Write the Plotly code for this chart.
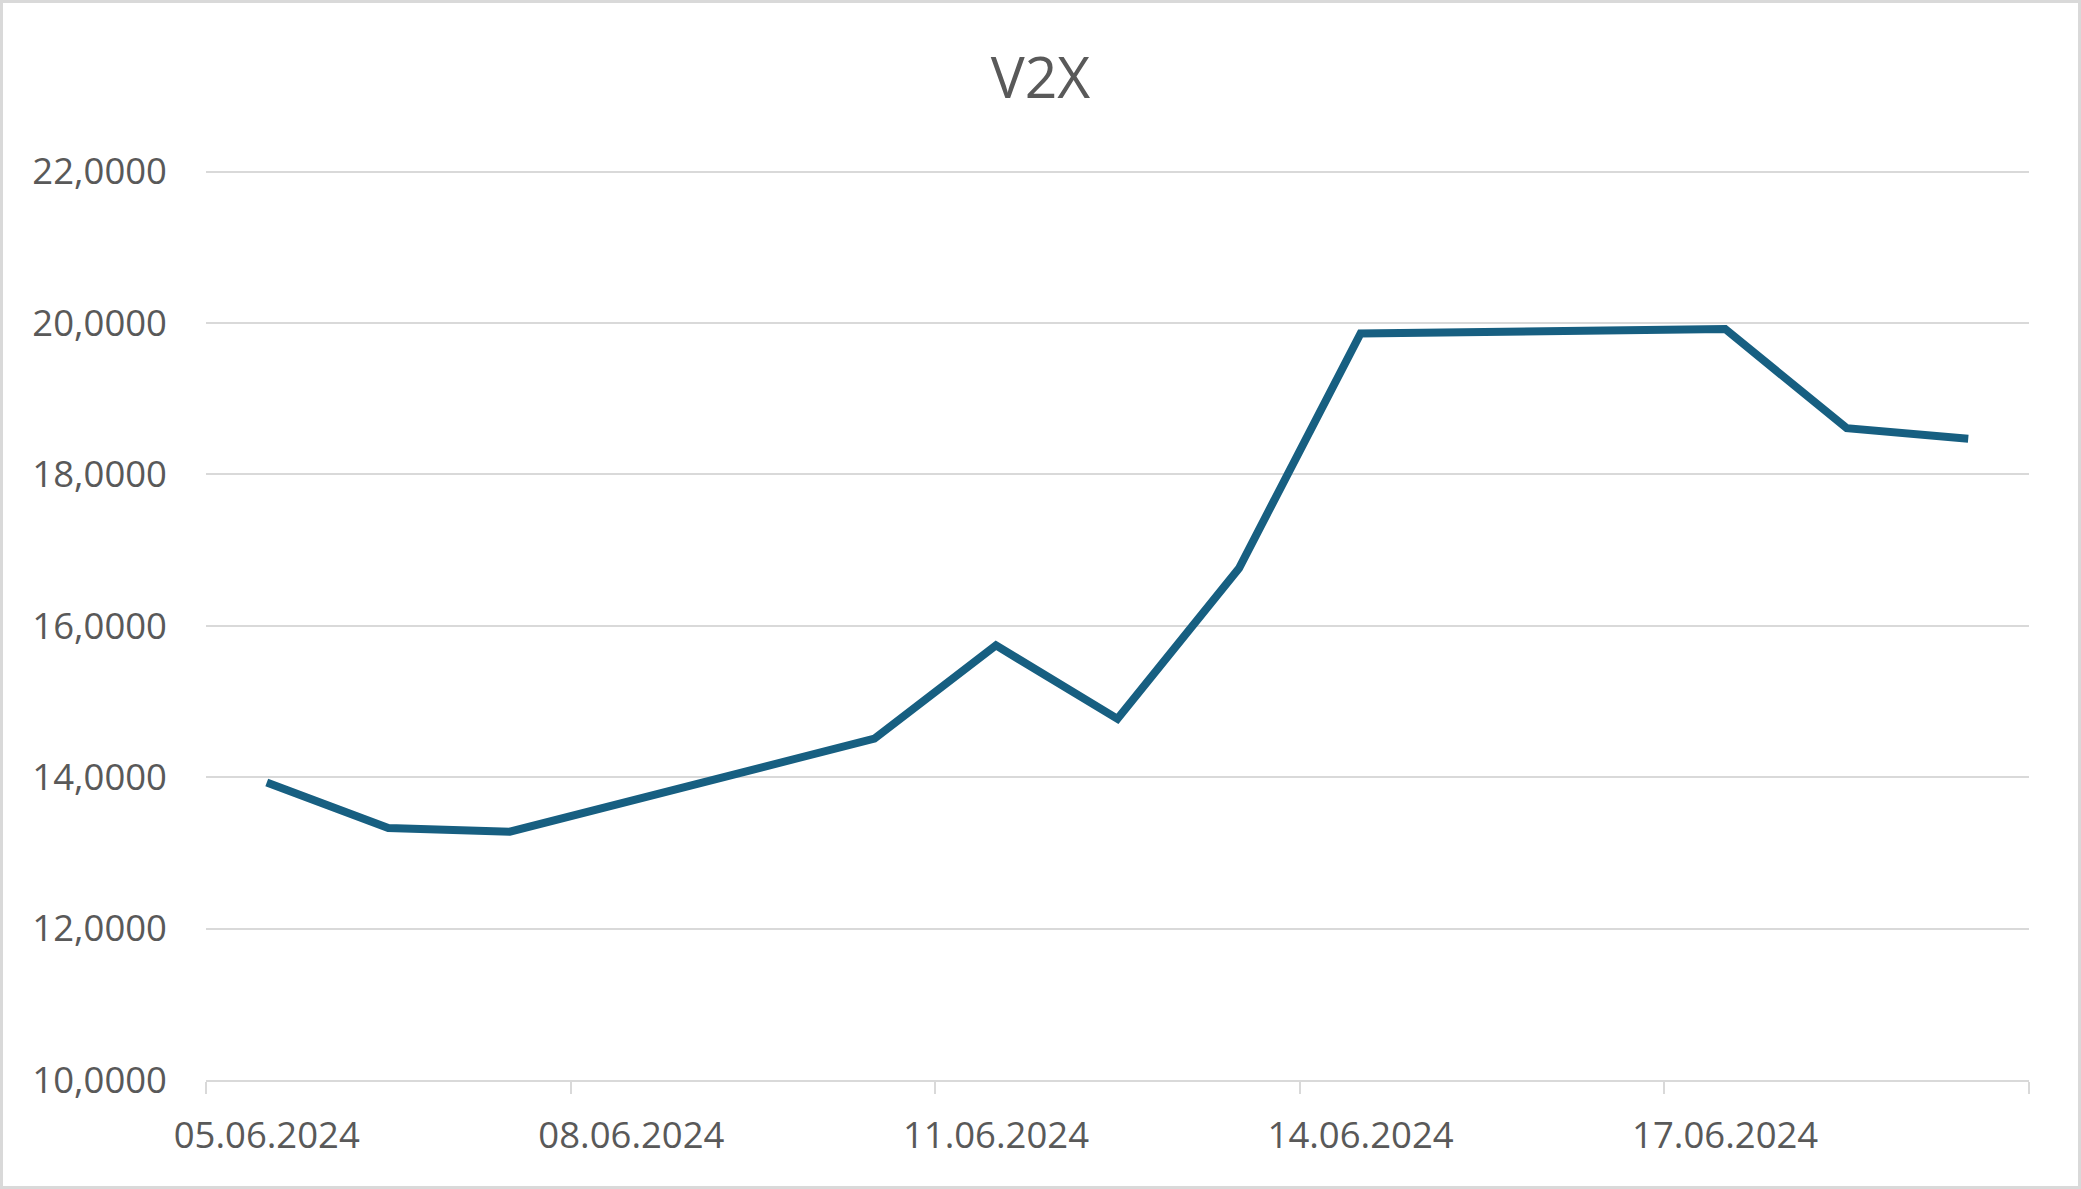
import plotly.graph_objects as go
import pandas as pd

# ---- data ----
dates = ["2024-06-05", "2024-06-06", "2024-06-07", "2024-06-10", "2024-06-11",
         "2024-06-12", "2024-06-13", "2024-06-14", "2024-06-17", "2024-06-18",
         "2024-06-19"]
v2x = [13.93, 13.33, 13.28, 14.51, 15.74, 14.77, 16.76, 19.86, 19.92, 18.61, 18.47]
label_dates = ["2024-06-05", "2024-06-08", "2024-06-11", "2024-06-14", "2024-06-17"]
y_ticks = [10, 12, 14, 16, 18, 20, 22]
title_text = "V2X"

# ---- styles ----
FONT = "Open Sans, Liberation Sans, sans-serif"
TXT = "#595959"
GRID = "#d9d9d9"
LINE = "#175F81"

W, H = 2081, 1189
ML, MR, MT, MB = 206, 52, 170, 109

x_start = pd.Timestamp(dates[0]) - pd.Timedelta(hours=12)
x_end = pd.Timestamp(dates[-1]) + pd.Timedelta(hours=12)
boundary_ticks = pd.date_range(x_start, x_end, freq="3D")

fig = go.Figure()
fig.add_trace(go.Scatter(
    x=dates, y=v2x, mode="lines",
    line=dict(color=LINE, width=8),
    showlegend=False, hoverinfo="x+y",
))

fig.update_layout(
    width=W, height=H,
    margin=dict(l=ML, r=MR, t=MT, b=MB),
    paper_bgcolor="white", plot_bgcolor="white",
    title=dict(text=title_text, x=0.5, xanchor="center", y=1 - 78 / H, yanchor="middle",
               font=dict(family=FONT, size=57, color=TXT)),
    font=dict(family=FONT, color=TXT),
    separators=",.",
)

fig.update_xaxes(
    type="date",
    range=[x_start, x_end],
    tickmode="array", tickvals=label_dates, tickformat="%d.%m.%Y",
    ticks="", showgrid=False,
    showline=True, linecolor=GRID, linewidth=2,
    tickfont=dict(family=FONT, size=36.5, color=TXT),
    ticklabelstandoff=22,
    minor=dict(tickmode="array", tickvals=list(boundary_ticks), ticks="outside",
               ticklen=12, tickwidth=2, tickcolor=GRID, showgrid=False),
    zeroline=False,
)

fig.update_yaxes(
    range=[10, 22.02],
    tickmode="array", tickvals=y_ticks,
    tickformat=".4f",
    showgrid=True, gridcolor=GRID, gridwidth=2,
    showline=False, zeroline=False, ticks="",
    tickfont=dict(family=FONT, size=36.5, color=TXT),
    ticklabelstandoff=38,
)

# outer chart border
pw = W - ML - MR
ph = H - MT - MB
fig.add_shape(type="rect", xref="paper", yref="paper",
              x0=(1.5 - ML) / pw, x1=(W - 1.5 - ML) / pw,
              y0=-(MB - 1.5) / ph, y1=1 + (MT - 1.5) / ph,
              line=dict(color=GRID, width=3), fillcolor="rgba(0,0,0,0)", layer="above")

fig.write_html("out.html",
               config={"displayModeBar": False},
               post_script="document.body.style.margin='0';document.body.style.overflow='hidden';")
